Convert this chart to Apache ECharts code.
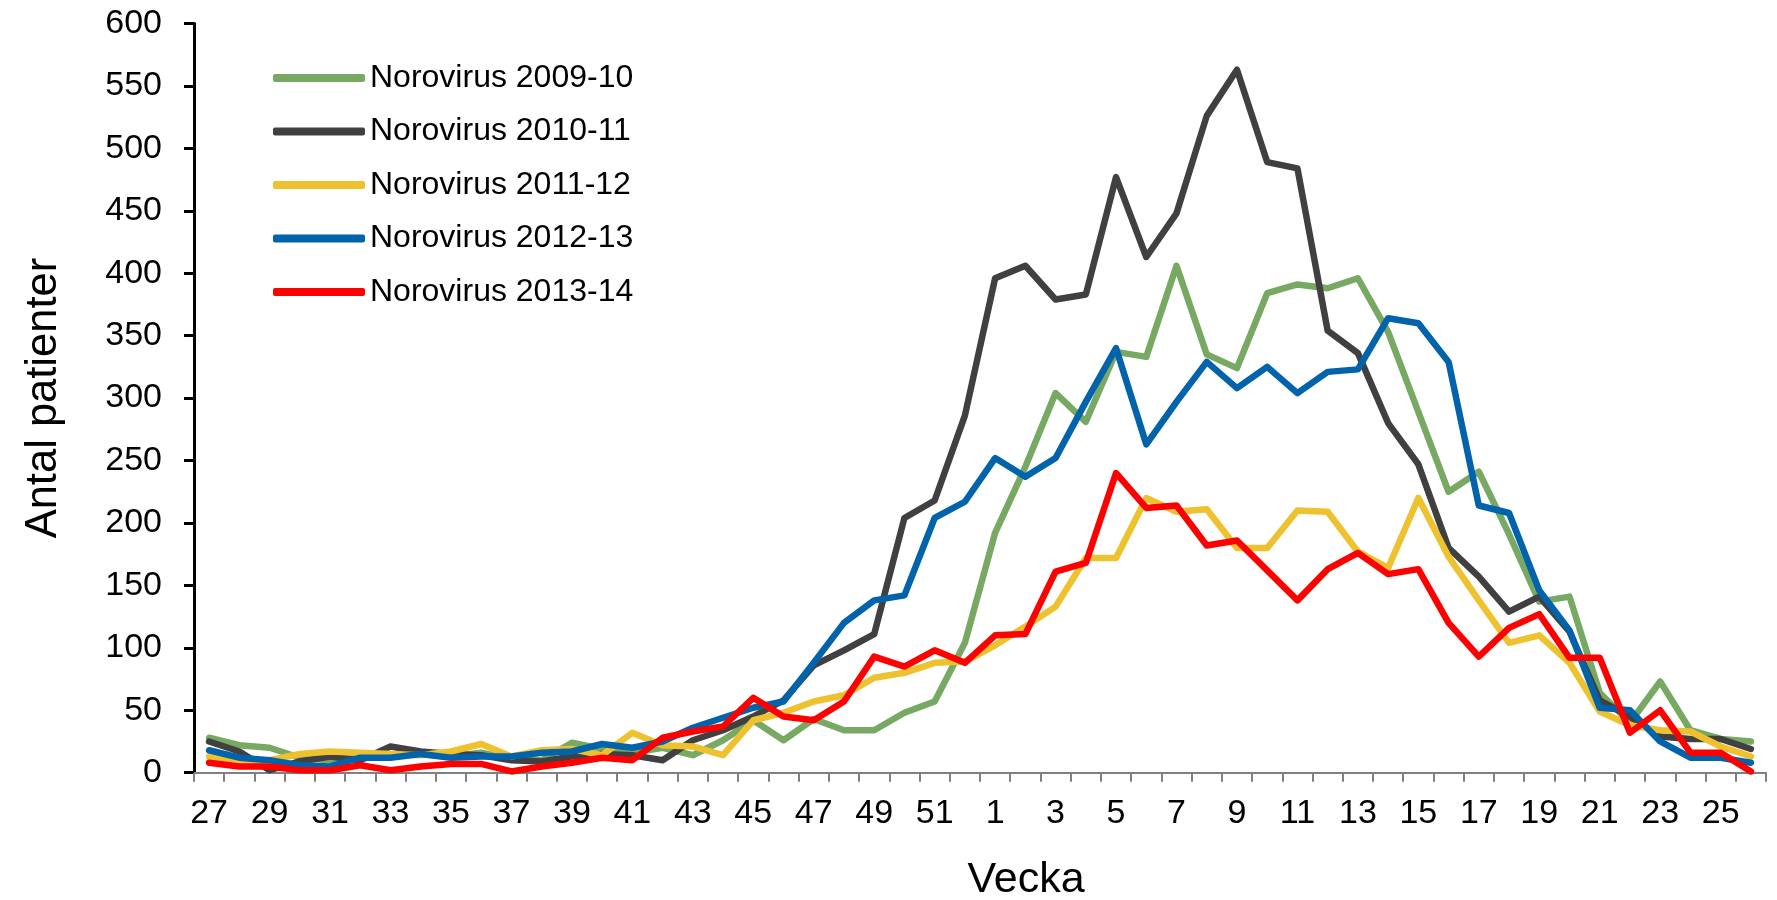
<!DOCTYPE html>
<html>
<head>
<meta charset="utf-8">
<script src="https://cdn.jsdelivr.net/npm/echarts@6/dist/echarts.min.js"></script>
<style>html,body{margin:0;padding:0;background:#fff}#c{width:1777px;height:900px}</style>
</head>
<body>
<div id="c"></div>
<script>
const weeks = [27,28,29,30,31,32,33,34,35,36,37,38,39,40,41,42,43,44,45,46,47,48,49,50,51,52,
               1,2,3,4,5,6,7,8,9,10,11,12,13,14,15,16,17,18,19,20,21,22,23,24,25,26];
const yTicks = [0,50,100,150,200,250,300,350,400,450,500,550,600];
const seriesNames = ['Norovirus 2009-10','Norovirus 2010-11','Norovirus 2011-12','Norovirus 2012-13','Norovirus 2013-14'];
const noro2009 = [28,22,20,12,10,12,14,15,13,16,11,10,24,19,16,20,14,26,42,26,43,34,34,48,57,104,
                  192,245,304,281,337,333,406,335,324,384,391,388,396,353,289,225,241,191,137,141,64,40,73,34,27,25];
const noro2010 = [25,17,2,9,13,10,21,17,15,14,10,9,13,15,14,10,26,34,45,58,86,98,111,204,218,286,
                  396,406,379,383,477,413,448,526,563,489,484,354,336,280,247,180,157,129,141,113,58,45,29,27,27,19];
const noro2011 = [13,9,10,15,17,16,15,14,17,23,13,18,19,14,32,22,21,14,42,48,57,62,76,80,88,89,
                  102,117,133,172,172,220,209,211,180,180,210,209,177,164,220,173,138,104,110,88,49,38,34,33,21,13];
const noro2012 = [18,12,10,6,5,12,12,15,12,13,13,16,17,23,20,25,36,44,52,57,88,120,138,142,204,217,
                  252,237,252,297,340,263,297,329,308,325,304,321,323,364,360,329,214,208,146,114,52,50,25,12,12,8];
const noro2013 = [8,5,5,2,2,6,2,5,7,7,1,5,8,12,10,28,33,37,60,45,42,57,93,85,98,88,
                  110,111,161,168,240,212,214,182,186,162,138,163,176,159,163,120,93,116,127,92,92,32,50,16,16,1];
const seriesValues = [noro2009, noro2010, noro2011, noro2012, noro2013];
const colors = ['#77A963','#404040','#EEC12E','#0063AB','#FF0000'];

const FONT = 'Liberation Sans, Arial, sans-serif';
const chart = echarts.init(document.getElementById('c'), null, {renderer:'canvas'});
chart.setOption({
  animation: false,
  backgroundColor: '#ffffff',
  color: colors,
  grid: {left: 194, right: 11, top: 23.5, bottom: 127.3, containLabel: false, outerBoundsMode: 'none'},
  legend: {
    orient: 'vertical', left: 268, top: 57,
    itemWidth: 92, itemHeight: 8, itemGap: 21.5,
    icon: 'roundRect',
    textStyle: {fontFamily: FONT, fontSize: 32, color: '#000'},
    data: seriesNames
  },
  xAxis: {
    type: 'category', data: weeks, boundaryGap: true,
    name: 'Vecka', nameLocation: 'middle', nameGap: 86,
    nameTextStyle: {fontFamily: FONT, fontSize: 43, color: '#000', padding: [0,0,0,92]},
    axisLine: {show: true, lineStyle: {color: '#808080', width: 2}},
    axisTick: {show: true, interval: 0, length: 9, lineStyle: {color: '#808080', width: 2}},
    axisLabel: {interval: 1, fontFamily: FONT, fontSize: 34, color: '#000', margin: 24},
    splitLine: {show: false}
  },
  yAxis: {
    type: 'value', min: yTicks[0], max: yTicks[yTicks.length-1], interval: 50,
    name: 'Antal patienter', nameLocation: 'middle', nameGap: 128,
    nameTextStyle: {fontFamily: FONT, fontSize: 43.5, color: '#000'},
    axisLine: {show: true, lineStyle: {color: '#000', width: 3}},
    axisTick: {show: true, length: 10, lineStyle: {color: '#000', width: 3}},
    axisLabel: {fontFamily: FONT, fontSize: 34, color: '#000', margin: 32},
    splitLine: {show: false}
  },
  series: seriesNames.map((n, k) => ({
    name: n, type: 'line', data: seriesValues[k], symbol: 'none',
    lineStyle: {width: 6.5, color: colors[k], cap: 'round', join: 'round'},
    itemStyle: {color: colors[k]}
  }))
});
</script>
</body>
</html>
